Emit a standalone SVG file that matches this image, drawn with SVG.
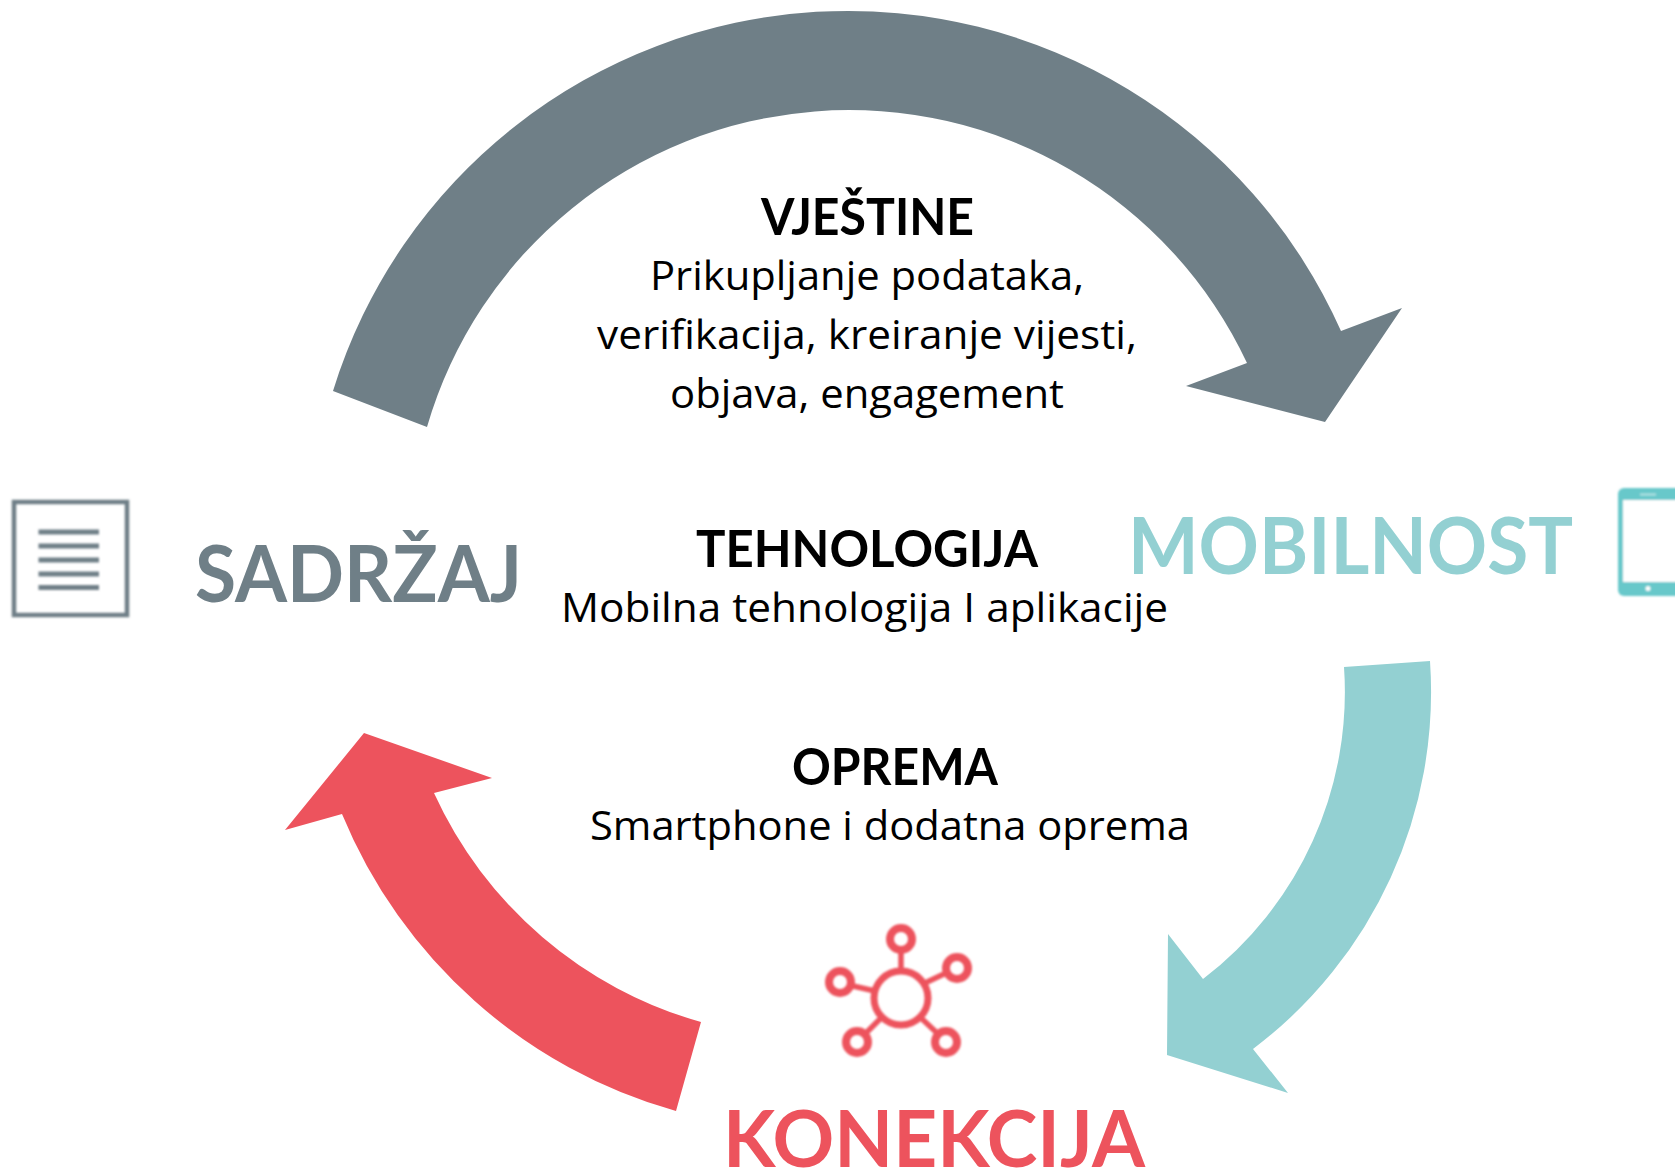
<svg xmlns="http://www.w3.org/2000/svg" width="1675" height="1172" viewBox="0 0 1675 1172">
<style>
.title{font-family:"Lato","Liberation Sans",sans-serif;font-weight:700}
.head{font-size:52px;fill:#000}
.body{font-family:"Open Sans","Liberation Sans",sans-serif;font-size:40px;fill:#000}
.big{font-size:79px}
</style>
<defs><filter id="soft" x="-10%" y="-10%" width="120%" height="120%"><feGaussianBlur stdDeviation="1"/></filter></defs>
<rect width="1675" height="1172" fill="#fff"/>
<g id="connectors">
<path id="arrow-grey" fill="#6F7F87" d="M333 391A539.300 539.300 0 0 1 1341 331L1402 308L1325 422L1186 386L1247 363A439.500 439.500 0 0 0 427 427Z"/>
<path id="arrow-teal" fill="#93D0D2" d="M1430 661A447 447 0 0 1 1253 1049L1288 1093L1167 1055L1168 934L1203 979A361 361 0 0 0 1344 667Z"/>
<path id="arrow-red" fill="#ED535D" d="M676 1111A510 510 0 0 1 342 814L285 830L364 733L492 778L434 793A418 418 0 0 0 701 1022Z"/>
</g>
<g id="node-sadrzaj">
<g filter="url(#soft)" fill="none" stroke="#6F7F87">
<rect x="14" y="502" width="113" height="113" stroke-width="4.500"/>
<path stroke-width="5" d="M38.500 532H99M38.500 546H99M38.500 560H99M38.500 574H99M38.500 587.500H99"/>
</g>
<text class="title big" x="195" y="602" textLength="327" lengthAdjust="spacingAndGlyphs" fill="#6F7F87">SADRŽAJ</text>
</g>
<g id="node-mobilnost">
<text class="title big" x="1128" y="574" textLength="445" lengthAdjust="spacingAndGlyphs" fill="#93D0D2">MOBILNOST</text>
<g filter="url(#soft)">
<rect x="1618" y="488" width="80" height="108" rx="6" fill="#68C8CA"/>
<rect x="1623" y="500" width="60" height="82" fill="#fff"/>
<circle cx="1648" cy="588.500" r="2.500" fill="#fff"/>
<path d="M1640 494.500H1656" stroke="#B5E3E4" stroke-width="2"/>
</g>
</g>
<g id="node-konekcija">
<g filter="url(#soft)" fill="none" stroke="#ED535D">
<g stroke-width="7"><circle cx="901" cy="998" r="27"/></g>
<g stroke-width="8"><circle cx="901" cy="939" r="11"/><circle cx="957" cy="968" r="11"/><circle cx="840" cy="982" r="11"/><circle cx="857" cy="1042" r="11"/><circle cx="946" cy="1042" r="11"/></g>
<path stroke-width="5.500" d="M901 953V971M925 983L944 974M875 991L853 986M881 1018L867 1032M921 1018L936 1032"/>
</g>
<text class="title big" x="723" y="1167" textLength="422" lengthAdjust="spacingAndGlyphs" fill="#ED535D">KONEKCIJA</text>
</g>
<g id="node-vjestine">
<text class="title head" x="761" y="235" textLength="213" lengthAdjust="spacingAndGlyphs">VJEŠTINE</text>
<text class="body" x="650" y="289.500" textLength="434" lengthAdjust="spacingAndGlyphs">Prikupljanje podataka,</text>
<text class="body" x="597" y="348.500" textLength="540" lengthAdjust="spacingAndGlyphs">verifikacija, kreiranje vijesti,</text>
<text class="body" x="670" y="407.500" textLength="394" lengthAdjust="spacingAndGlyphs">objava, engagement</text>
</g>
<g id="node-tehnologija">
<text class="title head" x="696" y="566.500" textLength="342" lengthAdjust="spacingAndGlyphs">TEHNOLOGIJA</text>
<text class="body" x="561" y="622" textLength="607" lengthAdjust="spacingAndGlyphs">Mobilna tehnologija I aplikacije</text>
</g>
<g id="node-oprema">
<text class="title head" x="792" y="785" textLength="206" lengthAdjust="spacingAndGlyphs">OPREMA</text>
<text class="body" x="590" y="840" textLength="600" lengthAdjust="spacingAndGlyphs">Smartphone i dodatna oprema</text>
</g>
</svg>
